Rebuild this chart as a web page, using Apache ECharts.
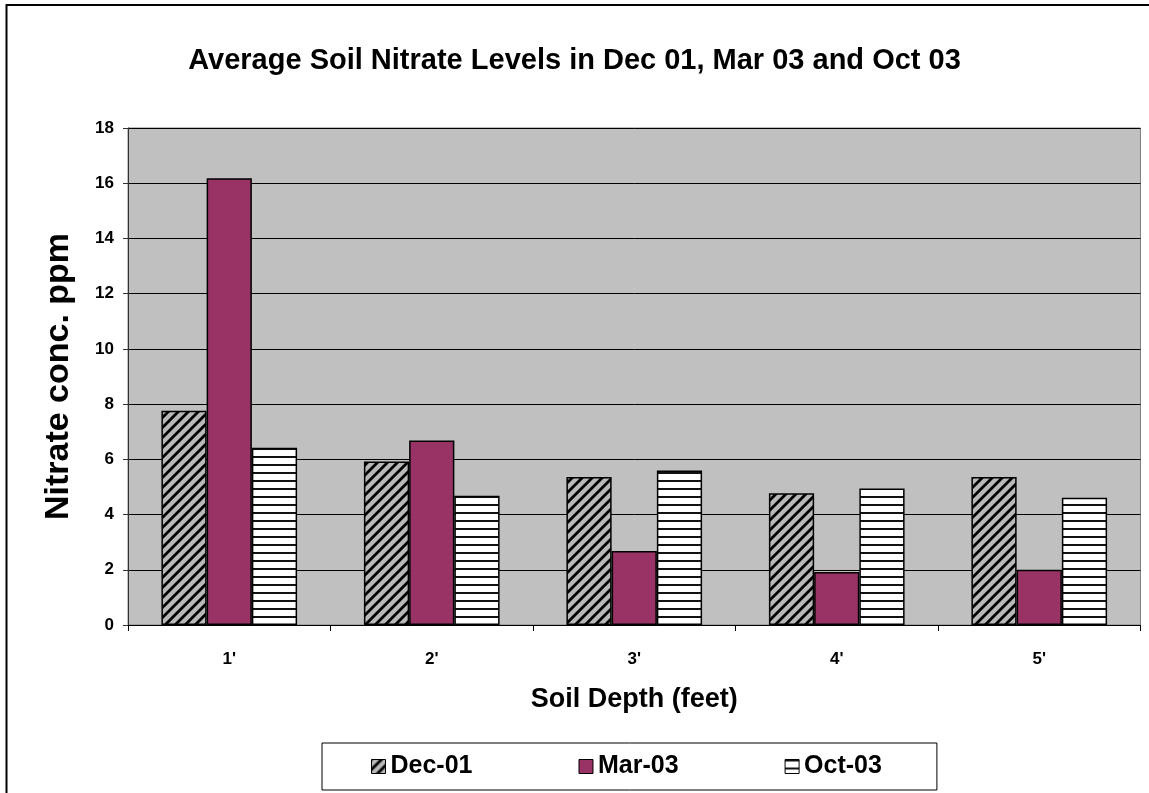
<!DOCTYPE html>
<html>
<head>
<meta charset="utf-8">
<script src="https://cdn.jsdelivr.net/npm/echarts@6/dist/echarts.min.js"></script>
<style>
html,body{margin:0;padding:0;background:#fff;}
#chart{width:1149px;height:793px;}
</style>
</head>
<body>
<div id="chart"></div>
<script>
const categories = ["1'", "2'", "3'", "4'", "5'"];
const seriesNames = ["Dec-01", "Mar-03", "Oct-03"];
const dec01 = [7.76, 5.92, 5.36, 4.77, 5.36];
const mar03 = [16.18, 6.68, 2.68, 1.92, 2.00];
const oct03 = [6.42, 4.68, 5.60, 4.94, 4.61];
const yMin = 0, yMax = 18, yStep = 2;

const FONT = "'Liberation Sans', Arial, sans-serif";

function diagPattern() {
  const c = document.createElement('canvas');
  c.width = 10; c.height = 10;
  const g = c.getContext('2d');
  g.fillStyle = '#B8B8B8';
  g.fillRect(0, 0, 10, 10);
  g.strokeStyle = '#000';
  g.lineWidth = 2.8;
  g.beginPath();
  g.moveTo(-2, 12); g.lineTo(12, -2);
  g.moveTo(-7, 7); g.lineTo(7, -7);
  g.moveTo(3, 17); g.lineTo(17, 3);
  g.stroke();
  return c;
}
function horizPattern() {
  const c = document.createElement('canvas');
  c.width = 8; c.height = 8;
  const g = c.getContext('2d');
  g.fillStyle = '#fff';
  g.fillRect(0, 0, 8, 8);
  g.fillStyle = '#111';
  g.fillRect(0, 0, 8, 2);
  return c;
}

const chart = echarts.init(document.getElementById('chart'), null, {renderer: 'canvas'});
const fills = [
  {image: diagPattern(), repeat: 'repeat'},
  '#993366',
  {image: horizPattern(), repeat: 'repeat'}
];
const dataSets = [dec01, mar03, oct03];

const option = {
  backgroundColor: '#fff',
  animation: false,
  textStyle: {fontFamily: FONT},
  title: {
    text: 'Average Soil Nitrate Levels in Dec 01, Mar 03 and Oct 03',
    left: 'center',
    top: 41,
    textStyle: {fontFamily: FONT, fontSize: 29, fontWeight: 'bold', color: '#000'}
  },
  graphic: [{
    type: 'rect',
    shape: {x: 6.5, y: 5, width: 1300, height: 1000},
    style: {fill: 'none', stroke: '#000', lineWidth: 2},
    z: 100, silent: true
  }],
  legend: {
    left: 322, top: 743,
    padding: [11, 55, 11, 49],
    itemGap: 106,
    itemWidth: 14, itemHeight: 14,
    borderColor: '#000', borderWidth: 1,
    backgroundColor: '#fff',
    icon: 'rect',
    itemStyle: {borderColor: '#000', borderWidth: 1},
    textStyle: {fontFamily: FONT, fontSize: 25, fontWeight: 'bold', color: '#000'},
    data: seriesNames
  },
  grid: {
    left: 128, top: 128, right: 8.5, bottom: 168,
    show: true, backgroundColor: '#C0C0C0', borderColor: '#808080', borderWidth: 1
  },
  xAxis: {
    type: 'category',
    data: categories,
    name: 'Soil Depth (feet)',
    nameLocation: 'middle',
    nameGap: 61,
    nameTextStyle: {fontFamily: FONT, fontSize: 27, fontWeight: 'bold', color: '#000'},
    axisLine: {lineStyle: {color: '#000', width: 1}},
    axisTick: {show: true, length: 6, inside: false, lineStyle: {color: '#000'}},
    axisLabel: {margin: 26, fontFamily: FONT, fontSize: 17, fontWeight: 'bold', color: '#000'}
  },
  yAxis: {
    type: 'value',
    min: yMin, max: yMax, interval: yStep,
    name: 'Nitrate conc. ppm',
    nameLocation: 'middle',
    nameGap: 52,
    nameTextStyle: {fontFamily: FONT, fontSize: 34, fontWeight: 'bold', color: '#000'},
    axisLine: {show: true, lineStyle: {color: '#333', width: 1}},
    axisTick: {show: true, length: 5, lineStyle: {color: '#333'}},
    axisLabel: {margin: 14, fontFamily: FONT, fontSize: 17, fontWeight: 'bold', color: '#000'},
    splitLine: {show: true, lineStyle: {color: '#000', width: 1}}
  },
  series: seriesNames.map((n, i) => ({
    name: n,
    type: 'bar',
    data: dataSets[i],
    barGap: '0%',
    barCategoryGap: '33%',
    itemStyle: {color: fills[i], borderColor: '#000', borderWidth: 1.5}
  }))
};
chart.setOption(option);
</script>
</body>
</html>
